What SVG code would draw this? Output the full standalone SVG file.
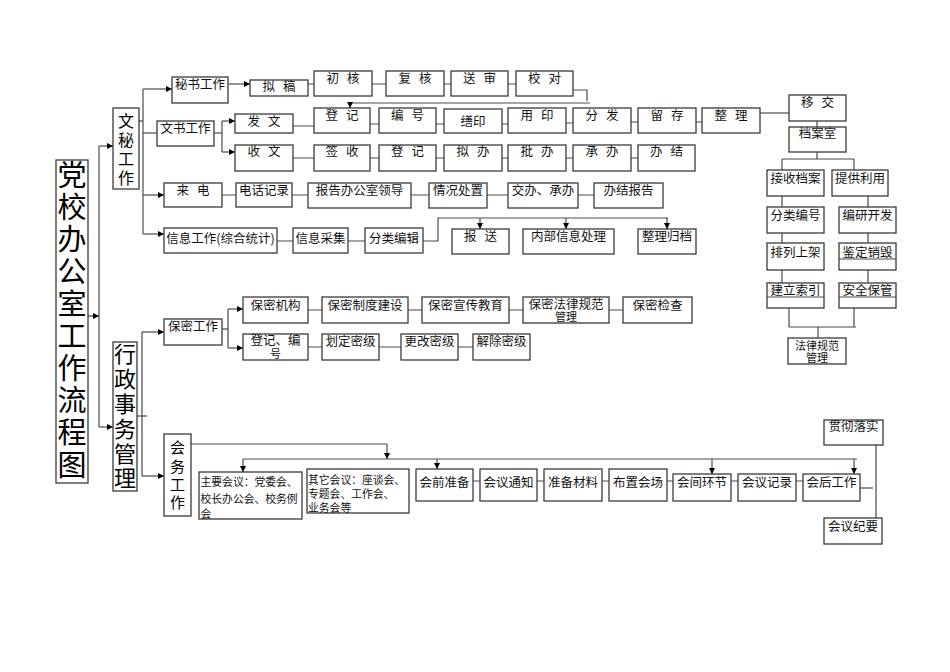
<svg xmlns="http://www.w3.org/2000/svg" width="950" height="672" viewBox="0 0 950 672">
<style>
.b{fill:#fff;stroke:#3a3a3a;stroke-width:1.3}
.t{font-family:"Noto Sans CJK SC","Noto Sans",sans-serif;font-size:12.5px;fill:#111;text-anchor:middle}
.t2{font-family:"Noto Sans CJK SC","Noto Sans",sans-serif;font-size:11px;fill:#111;text-anchor:middle}
.s{word-spacing:5px}
.l{font-family:"Noto Sans CJK SC","Noto Sans",sans-serif;font-size:10.8px;fill:#111}
.c{stroke:#4a4a4a;stroke-width:1.2;fill:none}
.a{marker-end:url(#ah)}
</style>
<defs>
<marker id="ah" viewBox="0 0 6 6" refX="6" refY="3" markerWidth="6" markerHeight="6" markerUnits="userSpaceOnUse" orient="auto">
<path d="M0,0 L6,3 L0,6 z" fill="#000"/>
</marker>
</defs>
<rect width="950" height="672" fill="#fff"/>

<g id="connectors">
<line class="c a" x1="88" y1="316" x2="99" y2="316"/>
<line class="c" x1="99" y1="146" x2="99" y2="427"/>
<line class="c a" x1="99" y1="146" x2="113" y2="146"/>
<line class="c a" x1="99" y1="427" x2="113" y2="427"/>
<line class="c" x1="139" y1="121" x2="143" y2="121"/>
<line class="c" x1="143" y1="89" x2="143" y2="234"/>
<line class="c a" x1="143" y1="89" x2="172" y2="89"/>
<line class="c" x1="143" y1="133" x2="157" y2="133"/>
<line class="c a" x1="143" y1="195" x2="164" y2="195"/>
<line class="c a" x1="143" y1="234" x2="164" y2="234"/>
<line class="c a" x1="228" y1="84" x2="250" y2="84"/>
<path class="c" d="M308,84H314M372,84H386M444,84H451M508,84H516"/>
<polyline class="c" points="573,90 587,90 587,101"/>
<line class="c" x1="590" y1="103" x2="350" y2="103"/>
<line class="c a" x1="350" y1="103" x2="350" y2="108"/>
<line class="c" x1="214" y1="133" x2="222" y2="133"/>
<line class="c" x1="222" y1="121" x2="222" y2="152"/>
<line class="c a" x1="222" y1="121" x2="235" y2="121"/>
<line class="c a" x1="222" y1="152" x2="235" y2="152"/>
<path class="c" d="M293,126H314M370,124H379M436,124H444M502,124H508M566,123H573M631,122H638M696,122H702"/>
<line class="c" x1="760" y1="113" x2="789" y2="113"/>
<line class="c" x1="817" y1="121" x2="817" y2="127"/>
<path class="c" d="M817,152V159M782,159H854M782,159V170M854,159V170"/>
<path class="c" d="M782,196V207M868,196V207M782,233V243M868,233V243M782,270V283M868,270V283"/>
<path class="c" d="M789,308V327M854,308V327M789,327H856M818,327V338"/>
<path class="c" d="M293,158H314M370,158H379M436,158H444M502,158H508M566,158H573M631,158H638"/>
<path class="c" d="M222,195H236M292,195H308M411,195H429M487,195H508M578,195H594"/>
<path class="c" d="M277,241H293M348,241H365"/>
<polyline class="c" points="423,241 438,241 438,218 668,218"/>
<line class="c a" x1="480" y1="218" x2="480" y2="229"/>
<line class="c a" x1="566" y1="218" x2="566" y2="229"/>
<line class="c a" x1="667" y1="218" x2="667" y2="229"/>
<line class="c" x1="137" y1="416" x2="147" y2="416"/>
<line class="c" x1="142" y1="332" x2="142" y2="476"/>
<line class="c a" x1="142" y1="332" x2="164" y2="332"/>
<line class="c a" x1="142" y1="476" x2="164" y2="476"/>
<line class="c" x1="222" y1="329" x2="228" y2="329"/>
<line class="c" x1="228" y1="309" x2="228" y2="348"/>
<line class="c a" x1="228" y1="309" x2="243" y2="309"/>
<line class="c a" x1="228" y1="348" x2="243" y2="348"/>
<path class="c" d="M308,310H322M408,310H422M509,310H523M609,310H623"/>
<path class="c" d="M308,347H322M379,347H401M458,347H473"/>
<line class="c" x1="191" y1="444" x2="387" y2="444"/>
<line class="c a" x1="387" y1="444" x2="387" y2="459"/>
<line class="c" x1="243" y1="459" x2="857" y2="459"/>
<line class="c a" x1="243" y1="459" x2="243" y2="472"/>
<line class="c a" x1="437" y1="459" x2="437" y2="469"/>
<line class="c a" x1="712" y1="459" x2="712" y2="474"/>
<line class="c a" x1="854" y1="459" x2="854" y2="474"/>
<path class="c" d="M473,481H480M537,481H544M602,481H609M667,481H673M731,481H738M796,481H803"/>
<line class="c" x1="860" y1="488" x2="873" y2="488"/>
<line class="c" x1="876" y1="445" x2="876" y2="518"/>
</g>

<g id="title">
<rect class="b" x="56" y="160" width="32" height="323" stroke-width="1.5"/>
<text font-family="'Noto Sans CJK SC',sans-serif" font-size="29" fill="#000" text-anchor="middle">
<tspan x="72" y="185.5">党</tspan><tspan x="72" y="217.5">校</tspan><tspan x="72" y="250">办</tspan><tspan x="72" y="282">公</tspan><tspan x="72" y="314.5">室</tspan><tspan x="72" y="346.5">工</tspan><tspan x="72" y="379">作</tspan><tspan x="72" y="411">流</tspan><tspan x="72" y="443">程</tspan><tspan x="72" y="475.5">图</tspan>
</text>
</g>

<g id="wenmi">
<rect class="b" x="113" y="108" width="26" height="81"/>
<text font-family="'Noto Sans CJK SC',sans-serif" font-size="16" fill="#000" text-anchor="middle">
<tspan x="126" y="127">文</tspan><tspan x="126" y="146">秘</tspan><tspan x="126" y="165">工</tspan><tspan x="126" y="184">作</tspan>
</text>
</g>

<g id="xingzheng">
<rect class="b" x="113" y="342" width="24" height="149"/>
<text font-family="'Noto Sans CJK SC',sans-serif" font-size="22" fill="#000" text-anchor="middle">
<tspan x="125" y="362">行</tspan><tspan x="125" y="387">政</tspan><tspan x="125" y="412">事</tspan><tspan x="125" y="437">务</tspan><tspan x="125" y="462">管</tspan><tspan x="125" y="486">理</tspan>
</text>
</g>

<g id="mishu"><rect class="b" x="172" y="77" width="56" height="26"/><text class="t" x="200" y="88.5">秘书工作</text></g>
<g id="nigao"><rect class="b" x="250" y="80" width="58" height="16"/><text class="t s" x="279" y="91">拟 稿</text></g>
<g id="chuhe"><rect class="b" x="314" y="71" width="58" height="25"/><text class="t s" x="343" y="82.5">初 核</text></g>
<g id="fuhe"><rect class="b" x="386" y="71" width="58" height="25"/><text class="t s" x="415" y="82.5">复 核</text></g>
<g id="songshen"><rect class="b" x="451" y="71" width="57" height="25"/><text class="t s" x="479.5" y="82.5">送 审</text></g>
<g id="jiaodui"><rect class="b" x="516" y="71" width="57" height="25"/><text class="t s" x="544.5" y="82.5">校 对</text></g>

<g id="wenshu"><rect class="b" x="157" y="121" width="57" height="25"/><text class="t" x="185.5" y="132.5">文书工作</text></g>
<g id="fawen"><rect class="b" x="235" y="114" width="58" height="19"/><text class="t s" x="264" y="126">发 文</text></g>
<g id="shouwen"><rect class="b" x="235" y="145" width="58" height="26"/><text class="t s" x="264" y="156">收 文</text></g>

<g id="dengji1"><rect class="b" x="314" y="108" width="56" height="25"/><text class="t s" x="342" y="119.5">登 记</text></g>
<g id="bianhao"><rect class="b" x="379" y="108" width="57" height="25"/><text class="t s" x="407.5" y="119.5">编 号</text></g>
<g id="shanyin"><rect class="b" x="444" y="109" width="58" height="24"/><text class="t" x="473" y="125.5">缮印</text></g>
<g id="yongyin"><rect class="b" x="508" y="108" width="58" height="25"/><text class="t s" x="537" y="119.5">用 印</text></g>
<g id="fenfa"><rect class="b" x="573" y="108" width="58" height="25"/><text class="t s" x="602" y="119.5">分 发</text></g>
<g id="liucun"><rect class="b" x="638" y="108" width="58" height="25"/><text class="t s" x="667" y="119.5">留 存</text></g>
<g id="zhengli"><rect class="b" x="702" y="108" width="58" height="25"/><text class="t s" x="731" y="119.5">整 理</text></g>

<g id="qianshou"><rect class="b" x="314" y="145" width="56" height="26"/><text class="t s" x="342" y="156">签 收</text></g>
<g id="dengji2"><rect class="b" x="379" y="145" width="57" height="26"/><text class="t s" x="407.5" y="156">登 记</text></g>
<g id="niban"><rect class="b" x="444" y="145" width="58" height="26"/><text class="t s" x="473" y="156">拟 办</text></g>
<g id="piban"><rect class="b" x="508" y="145" width="58" height="26"/><text class="t s" x="537" y="156">批 办</text></g>
<g id="chengban"><rect class="b" x="573" y="145" width="58" height="26"/><text class="t s" x="602" y="156">承 办</text></g>
<g id="banjie"><rect class="b" x="638" y="145" width="57" height="26"/><text class="t s" x="666.5" y="156">办 结</text></g>

<g id="laidian"><rect class="b" x="164" y="183" width="58" height="24"/><text class="t s" x="193" y="194.5">来 电</text></g>
<g id="dianhua"><rect class="b" x="236" y="183" width="56" height="24"/><text class="t" x="264" y="194.5">电话记录</text></g>
<g id="baogao"><rect class="b" x="308" y="183" width="103" height="25"/><text class="t" x="359.5" y="194.5">报告办公室领导</text></g>
<g id="qingkuang"><rect class="b" x="429" y="183" width="58" height="25"/><text class="t" x="458" y="194.5">情况处置</text></g>
<g id="jiaoban"><rect class="b" x="508" y="183" width="70" height="25"/><text class="t" x="543" y="194.5">交办、承办</text></g>
<g id="banjiebaogao"><rect class="b" x="594" y="183" width="69" height="25"/><text class="t" x="628.5" y="194.5">办结报告</text></g>

<g id="xinxi"><rect class="b" x="164" y="228" width="113" height="25"/><text class="t" x="220.5" y="242.5">信息工作(综合统计)</text></g>
<g id="caiji"><rect class="b" x="293" y="228" width="55" height="25"/><text class="t" x="320.5" y="242.5">信息采集</text></g>
<g id="bianji"><rect class="b" x="365" y="228" width="58" height="25"/><text class="t" x="394" y="242.5">分类编辑</text></g>
<g id="baosong"><rect class="b" x="452" y="229" width="57" height="25"/><text class="t s" x="480.5" y="240.5">报 送</text></g>
<g id="neibu"><rect class="b" x="523" y="229" width="91" height="25"/><text class="t" x="568.5" y="240.5">内部信息处理</text></g>
<g id="guidang"><rect class="b" x="638" y="229" width="58" height="25"/><text class="t" x="667" y="240.5">整理归档</text></g>

<g id="yijiao"><rect class="b" x="789" y="95" width="57" height="26"/><text class="t s" x="817.5" y="107">移 交</text></g>
<g id="danganshi"><rect class="b" x="789" y="127" width="57" height="25"/><text class="t" x="817.5" y="138">档案室</text></g>
<g id="jieshou"><rect class="b" x="767" y="170" width="57" height="26"/><text class="t" x="795.5" y="183">接收档案</text></g>
<g id="tigong"><rect class="b" x="832" y="170" width="56" height="26"/><text class="t" x="860" y="183">提供利用</text></g>
<g id="fenlei"><rect class="b" x="767" y="207" width="57" height="26"/><text class="t" x="795.5" y="219.5">分类编号</text></g>
<g id="bianyan"><rect class="b" x="839" y="207" width="57" height="26"/><text class="t" x="867.5" y="219.5">编研开发</text></g>
<g id="pailie"><rect class="b" x="767" y="243" width="57" height="27"/><text class="t" x="795.5" y="257">排列上架</text></g>
<g id="jianding"><rect class="b" x="839" y="243" width="57" height="27"/><line class="c" x1="839" y1="259" x2="896" y2="259"/><text class="t" x="867.5" y="257">鉴定销毁</text></g>
<g id="suoyin"><rect class="b" x="767" y="283" width="57" height="25"/><line class="c" x1="767" y1="297" x2="824" y2="297"/><text class="t" x="795.5" y="294.5">建立索引</text></g>
<g id="baoguan"><rect class="b" x="839" y="283" width="57" height="25"/><line class="c" x1="839" y1="297" x2="896" y2="297"/><text class="t" x="867.5" y="294.5">安全保管</text></g>
<g id="falv"><rect class="b" x="788" y="338" width="58" height="26"/><text class="t2" x="817" y="349.5">法律规范</text><text class="t2" x="817" y="362">管理</text></g>

<g id="baomi"><rect class="b" x="164" y="319" width="58" height="26"/><text class="t" x="193" y="331">保密工作</text></g>
<g id="jigou"><rect class="b" x="243" y="297" width="65" height="26"/><text class="t" x="275.5" y="309.5">保密机构</text></g>
<g id="zhidu"><rect class="b" x="322" y="297" width="86" height="26"/><text class="t" x="365" y="309.5">保密制度建设</text></g>
<g id="xuanchuan"><rect class="b" x="422" y="297" width="87" height="26"/><text class="t" x="465.5" y="309.5">保密宣传教育</text></g>
<g id="bmfalv"><rect class="b" x="523" y="297" width="86" height="26"/><text class="t" x="566" y="308.5">保密法律规范</text><text class="t2" x="566" y="321">管理</text></g>
<g id="jiancha"><rect class="b" x="623" y="297" width="69" height="26"/><text class="t" x="657.5" y="309.5">保密检查</text></g>
<g id="bmdengji"><rect class="b" x="243" y="334" width="65" height="26"/><text class="t" x="275.5" y="345">登记、编</text><text class="t2" x="275.5" y="358">号</text></g>
<g id="huading"><rect class="b" x="322" y="334" width="57" height="26"/><text class="t" x="350.5" y="346">划定密级</text></g>
<g id="genggai"><rect class="b" x="401" y="334" width="57" height="26"/><text class="t" x="429.5" y="346">更改密级</text></g>
<g id="jiechu"><rect class="b" x="473" y="334" width="57" height="26"/><text class="t" x="501.5" y="346">解除密级</text></g>

<g id="huiwu">
<rect class="b" x="164" y="434" width="27" height="82"/>
<text font-family="'Noto Sans CJK SC',sans-serif" font-size="15" fill="#000" text-anchor="middle">
<tspan x="177.5" y="453">会</tspan><tspan x="177.5" y="472">务</tspan><tspan x="177.5" y="490">工</tspan><tspan x="177.5" y="508">作</tspan>
</text>
</g>
<g id="zhuyao"><rect class="b" x="199" y="472" width="103" height="47"/>
<text class="l" x="200.5" y="486">主要会议：党委会、</text><text class="l" x="200.5" y="502.5">校长办公会、校务例</text><text class="l" x="200.5" y="518">会</text></g>
<g id="qita"><rect class="b" x="307" y="469" width="102" height="44"/>
<text class="l" x="308" y="483.5">其它会议：座谈会、</text><text class="l" x="308" y="497.5">专题会、工作会、</text><text class="l" x="308" y="511.5">业务会等</text></g>
<g id="huiqian"><rect class="b" x="416" y="469" width="57" height="32"/><text class="t" x="444.5" y="486.5">会前准备</text></g>
<g id="tongzhi"><rect class="b" x="480" y="469" width="57" height="32"/><text class="t" x="508.5" y="486.5">会议通知</text></g>
<g id="cailiao"><rect class="b" x="544" y="469" width="58" height="32"/><text class="t" x="573" y="486.5">准备材料</text></g>
<g id="buzhi"><rect class="b" x="609" y="469" width="58" height="32"/><text class="t" x="638" y="486.5">布置会场</text></g>
<g id="huijian"><rect class="b" x="673" y="474" width="58" height="27"/><text class="t" x="702" y="486.5">会间环节</text></g>
<g id="jilu"><rect class="b" x="738" y="474" width="58" height="27"/><text class="t" x="767" y="486.5">会议记录</text></g>
<g id="huihou"><rect class="b" x="803" y="474" width="57" height="27"/><text class="t" x="831.5" y="486.5">会后工作</text></g>
<g id="guanche"><rect class="b" x="824" y="420" width="59" height="25"/><text class="t" x="853.5" y="431">贯彻落实</text></g>
<g id="jiyao"><rect class="b" x="824" y="518" width="58" height="26"/><text class="t" x="853" y="531">会议纪要</text></g>
</svg>
